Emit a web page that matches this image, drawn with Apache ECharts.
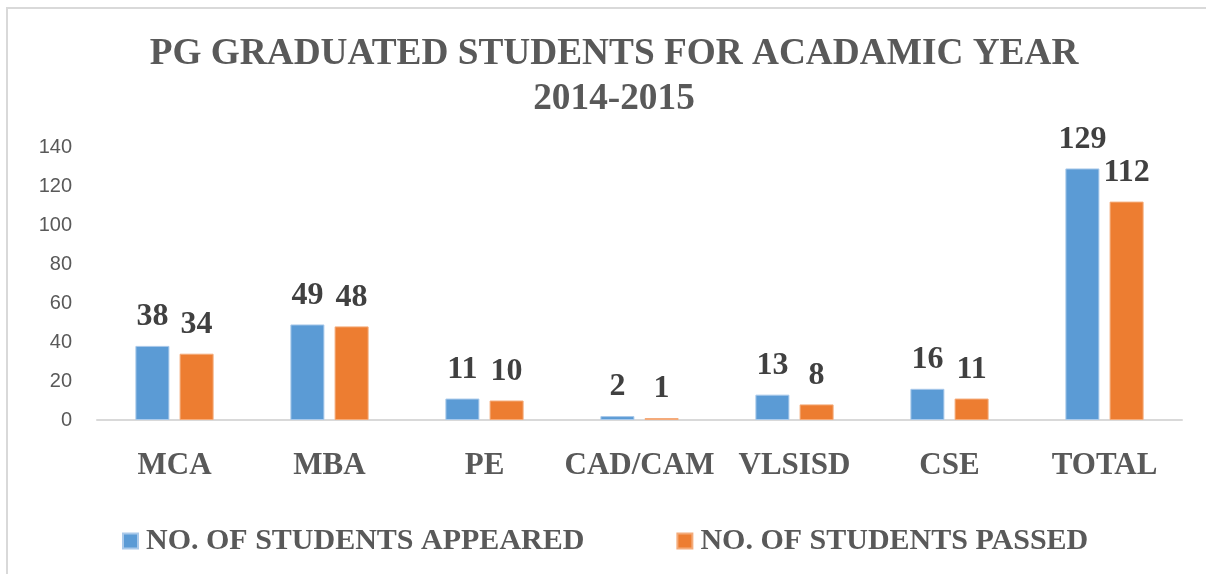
<!DOCTYPE html>
<html>
<head>
<meta charset="utf-8">
<script src="https://cdn.jsdelivr.net/npm/echarts@6/dist/echarts.min.js"></script>
<style>
  html, body { margin: 0; padding: 0; background: #fff; }
  #chart { width: 1206px; height: 574px; }
</style>
</head>
<body>
<div id="chart"></div>
<script>
const categories = ['MCA', 'MBA', 'PE', 'CAD/CAM', 'VLSISD', 'CSE', 'TOTAL']
const appeared = [38, 49, 11, 2, 13, 16, 129]
const passed = [34, 48, 10, 1, 8, 11, 112]
const seriesNames = ['NO. OF STUDENTS APPEARED', 'NO. OF STUDENTS PASSED']
const yTicks = { min: 0, max: 140, interval: 20 }

const serif = '"Liberation Serif", "Times New Roman", serif'
const sans = '"Liberation Sans", Arial, sans-serif'

const chart = echarts.init(document.getElementById('chart'))

const labelStyle = {
  show: true,
  position: 'top',
  distance: 13,
  fontFamily: serif,
  fontWeight: 'bold',
  fontSize: 32,
  color: '#404040',
}

chart.setOption({
  animation: false,
  graphic: [
    {
      type: 'rect',
      shape: { x: 7, y: 8, width: 1400, height: 800 },
      style: { fill: 'none', stroke: '#d9d9d9', lineWidth: 2 },
      silent: true,
    },
  ],
  title: {
    text: 'PG GRADUATED STUDENTS FOR ACADAMIC YEAR\n2014-2015',
    left: 609,
    textAlign: 'center',
    top: 27,
    textStyle: {
      fontFamily: serif,
      fontWeight: 'bold',
      fontSize: 37.3,
      lineHeight: 45,
      color: '#595959',
    },
  },
  legend: {
    data: seriesNames,
    left: 117,
    top: 521,
    itemWidth: 15,
    itemHeight: 15,
    itemGap: 92,
    icon: 'rect',
    textStyle: {
      fontFamily: serif,
      fontWeight: 'bold',
      fontSize: 30,
      color: '#595959',
      padding: [0, 0, 0, 3],
    },
  },
  grid: { left: 97, right: 24, top: 147, bottom: 154, containLabel: false },
  xAxis: {
    type: 'category',
    data: categories,
    axisLine: { lineStyle: { color: '#d9d9d9', width: 2 } },
    axisTick: { show: false },
    axisLabel: {
      interval: 0,
      margin: 30,
      fontFamily: serif,
      fontWeight: 'bold',
      fontSize: 31,
      color: '#595959',
    },
  },
  yAxis: {
    type: 'value',
    min: yTicks.min,
    max: yTicks.max,
    interval: yTicks.interval,
    axisLine: { show: false },
    axisTick: { show: false },
    splitLine: { show: false },
    axisLabel: {
      margin: 25,
      fontFamily: sans,
      fontSize: 20,
      color: '#595959',
    },
  },
  series: [
    {
      name: seriesNames[0],
      type: 'bar',
      data: appeared,
      barWidth: 34,
      barGap: '30%',
      itemStyle: { color: '#5b9bd5', borderColor: '#a9c9ea', borderWidth: 1 },
      label: labelStyle,
    },
    {
      name: seriesNames[1],
      type: 'bar',
      data: passed,
      barWidth: 34,
      itemStyle: { color: '#ed7d31', borderColor: '#f4ab7a', borderWidth: 1 },
      label: labelStyle,
    },
  ],
})

window.addEventListener('resize', () => {
  chart.resize()
})
</script>
</body>
</html>
